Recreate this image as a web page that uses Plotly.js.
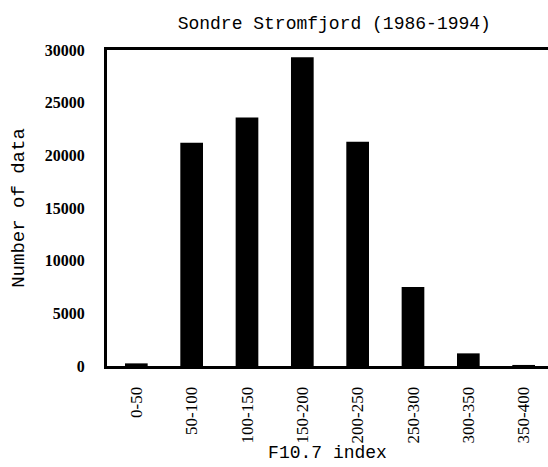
<!DOCTYPE html>
<html>
<head>
<meta charset="utf-8">
<script src="https://cdn.plot.ly/plotly-3.0.1.min.js"></script>
<style>
  html, body { margin: 0; padding: 0; background: #fff; }
  #chart { width: 548px; height: 467px; }
</style>
</head>
<body>
<div id="chart"></div>
<script>
// F10.7 bins and counts
var bins = ['0-50', '50-100', '100-150', '150-200', '200-250', '250-300', '300-350', '350-400'];
var counts = [250, 21200, 23600, 29300, 21300, 7500, 1200, 100];
var yTicks = [0, 5000, 10000, 15000, 20000, 25000, 30000];

var bars = {
  x: bins,
  y: counts,
  type: 'bar',
  marker: { color: '#000', line: { width: 0 } },
  hoverinfo: 'x+y'
};

var layout = {
  width: 548,
  height: 467,
  margin: { l: 107, r: 0, t: 50, b: 101 },
  paper_bgcolor: '#fff',
  plot_bgcolor: '#fff',
  showlegend: false,
  bargap: 0.59,
  title: {
    text: 'Sondre Stromfjord (1986-1994)',
    font: { family: 'Liberation Mono', size: 18, color: '#000' },
    x: 0.61, xanchor: 'center',
    y: 0.952, yanchor: 'middle'
  },
  xaxis: {
    type: 'category',
    range: [-0.53, 7.44],
    showgrid: false,
    zeroline: false,
    showline: true,
    mirror: true,
    linewidth: 3,
    linecolor: '#000',
    ticks: '',
    tickangle: -90,
    ticklabelstandoff: 11,
    tickfont: { family: 'Liberation Serif', size: 17, color: '#000' },
    title: {
      text: 'F10.7 index',
      font: { family: 'Liberation Mono', size: 18, color: '#000' },
      standoff: 3
    }
  },
  yaxis: {
    range: [0, 30000],
    tickvals: yTicks,
    tickformat: 'd',
    showgrid: false,
    zeroline: false,
    showline: true,
    linewidth: 3,
    linecolor: '#000',
    ticks: '',
    ticklabelstandoff: 16,
    tickfont: { family: 'Liberation Serif', size: 16, color: '#000', weight: 'bold' },
    title: {
      text: 'Number of data',
      font: { family: 'Liberation Mono', size: 19, color: '#000' },
      standoff: 16
    }
  }
};

Plotly.newPlot('chart', [bars], layout, { displayModeBar: false, staticPlot: true });
</script>
</body>
</html>
